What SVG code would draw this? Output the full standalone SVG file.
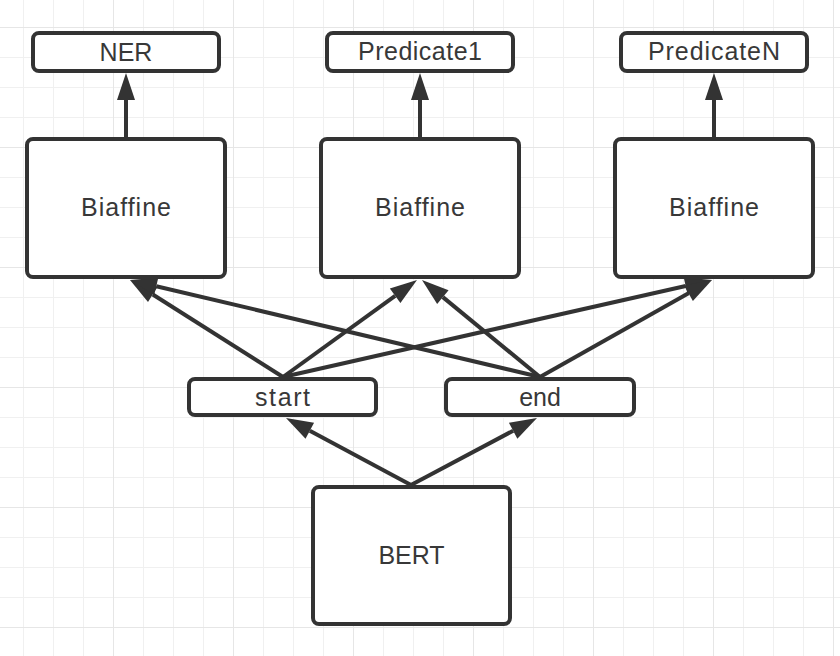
<svg xmlns="http://www.w3.org/2000/svg" width="840" height="656" viewBox="0 0 840 656">
  <defs>
    <pattern id="minor" width="30" height="30" x="23" y="27" patternUnits="userSpaceOnUse">
      <path d="M0,0 H30 M0,0 V30" stroke="#f0f0f0" stroke-width="2" fill="none"/>
    </pattern>
    <pattern id="major" width="120" height="120" x="113" y="27" patternUnits="userSpaceOnUse">
      <path d="M0,0 H120 M0,0 V120" stroke="#e6e6e6" stroke-width="2" fill="none"/>
    </pattern>
    <marker id="arrow" markerUnits="userSpaceOnUse" markerWidth="30" markerHeight="20" refX="0" refY="0" viewBox="0 -10 30 20" orient="auto" overflow="visible">
      <path d="M0,-9 L27,0 L0,9 Z" fill="#333333"/>
    </marker>
    <style>
      .box { fill: #ffffff; stroke: #333333; stroke-width: 4; }
      .lbl { font-family: "Liberation Sans", Arial, sans-serif; font-size: 25px; fill: #383838; text-anchor: middle; }
      .edge { stroke: #333333; stroke-width: 4; fill: none; marker-end: url(#arrow); }
    </style>
  </defs>
  <rect width="840" height="656" fill="#ffffff"/>
  <rect width="840" height="656" fill="url(#minor)"/>
  <rect width="840" height="656" fill="url(#major)"/>

  <g id="connectors">
    <line class="edge" x1="126" y1="139" x2="126" y2="100"/>
    <line class="edge" x1="420" y1="139" x2="420" y2="100"/>
    <line class="edge" x1="714" y1="139" x2="714" y2="100"/>
    <line class="edge" x1="283" y1="377" x2="152.8" y2="294.46"/>
    <line class="edge" x1="540" y1="377" x2="156.27" y2="286.22"/>
    <line class="edge" x1="283" y1="377" x2="395.13" y2="295.83"/>
    <line class="edge" x1="540" y1="377" x2="442.86" y2="297.15"/>
    <line class="edge" x1="283" y1="377" x2="685.66" y2="285.95"/>
    <line class="edge" x1="540" y1="377" x2="688.48" y2="293.26"/>
    <line class="edge" x1="411" y1="485" x2="309.8" y2="430.75"/>
    <line class="edge" x1="411" y1="485" x2="513.16" y2="430.68"/>
  </g>

  <g id="ner">
    <rect class="box" x="33" y="33" width="186" height="38" rx="6"/>
    <text class="lbl" x="126" y="61">NER</text>
  </g>
  <g id="predicate1">
    <rect class="box" x="327" y="33" width="186" height="38" rx="6"/>
    <text class="lbl" x="420" y="60" textLength="124" lengthAdjust="spacing">Predicate1</text>
  </g>
  <g id="predicateN">
    <rect class="box" x="621" y="33" width="186" height="38" rx="6"/>
    <text class="lbl" x="714" y="60" textLength="132" lengthAdjust="spacing">PredicateN</text>
  </g>
  <g id="biaffine1">
    <rect class="box" x="27" y="139" width="198" height="138" rx="6"/>
    <text class="lbl" x="126" y="216" textLength="90" lengthAdjust="spacing">Biaffine</text>
  </g>
  <g id="biaffine2">
    <rect class="box" x="321" y="139" width="198" height="138" rx="6"/>
    <text class="lbl" x="420" y="216" textLength="90" lengthAdjust="spacing">Biaffine</text>
  </g>
  <g id="biaffine3">
    <rect class="box" x="615" y="139" width="198" height="138" rx="6"/>
    <text class="lbl" x="714" y="216" textLength="90" lengthAdjust="spacing">Biaffine</text>
  </g>
  <g id="start">
    <rect class="box" x="189" y="379" width="187" height="36" rx="6"/>
    <text class="lbl" x="282.5" y="406" textLength="55" lengthAdjust="spacing">start</text>
  </g>
  <g id="end">
    <rect class="box" x="446" y="379" width="188" height="36" rx="6"/>
    <text class="lbl" x="540" y="406">end</text>
  </g>
  <g id="bert">
    <rect class="box" x="313" y="487" width="197" height="137" rx="6"/>
    <text class="lbl" x="411.5" y="564">BERT</text>
  </g>
</svg>
